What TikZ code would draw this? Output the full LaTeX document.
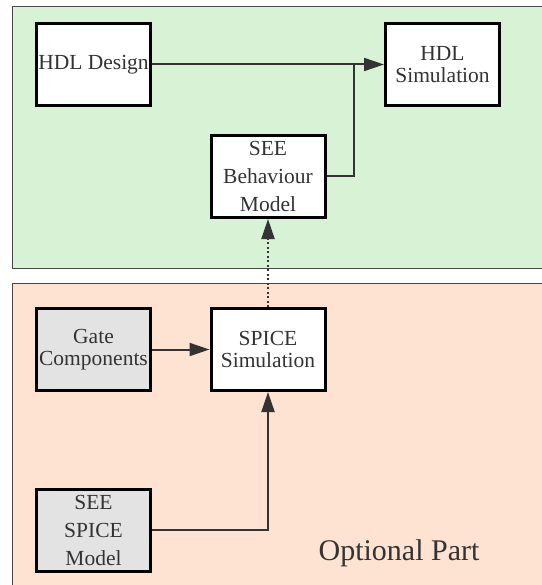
\documentclass[tikz,border=0pt]{standalone}
\usepackage{fontspec}
\setmainfont{Liberation Serif}
\usetikzlibrary{arrows.meta}
\definecolor{greenpart}{HTML}{D7F2D5}
\definecolor{optpart}{HTML}{FEE3D3}
\definecolor{grayblock}{HTML}{E3E3E3}
\definecolor{ink}{HTML}{333333}

\begin{document}
\begin{tikzpicture}[x=1pt,y=-1pt,
    block/.style={draw=black, line width=3pt, fill=white, minimum width=114pt,
      minimum height=82pt, inner sep=0pt, align=center, text=ink,
      font=\fontsize{21.5}{21.5}\selectfont},
    tall/.style={font=\fontsize{21.5}{28}\selectfont},
    given/.style={fill=grayblock},
    link/.style={draw=ink, line width=2pt, -{Triangle[length=20pt,width=13pt]}}]
    \useasboundingbox (0,0) rectangle (541,585);

    % Parts
    \draw[fill=greenpart, draw=ink!90, line width=1pt] (12,7) rectangle (560,268);
    \draw[fill=optpart, draw=ink!90, line width=1pt] (12,283) rectangle (560,600);
    \node[text=ink, font=\fontsize{30}{34}\selectfont] (optional) at (399,553) {Optional Part};

    % Blocks
    \node[block] (design) at (93.5,64.5) {HDL Design};
    \node[block] (hdlsim) at (442.5,64.5) {HDL\\Simulation};
    \node[block, tall] (behaviour) at (268,176.5) {SEE\\Behaviour\\Model};
    \node[block, given] (gates) at (93.5,349.5) {Gate\\Components};
    \node[block] (spicesim) at (268,349.5) {SPICE\\Simulation};
    \node[block, given, tall] (spicemodel) at (93.5,530) {SEE\\SPICE\\Model};

    % Links
    \draw[link] (design.east) -- (hdlsim.west);
    \draw[draw=ink, line width=2pt] (behaviour.east) -| ([xshift=-30.5pt]hdlsim.west);
    \draw[link, dash pattern=on 2pt off 2.5pt] (spicesim.north) -- (behaviour.south);
    \draw[link] (gates.east) -- (spicesim.west);
    \draw[link] (spicemodel.east) -| (spicesim.south);
\end{tikzpicture}
\end{document}
